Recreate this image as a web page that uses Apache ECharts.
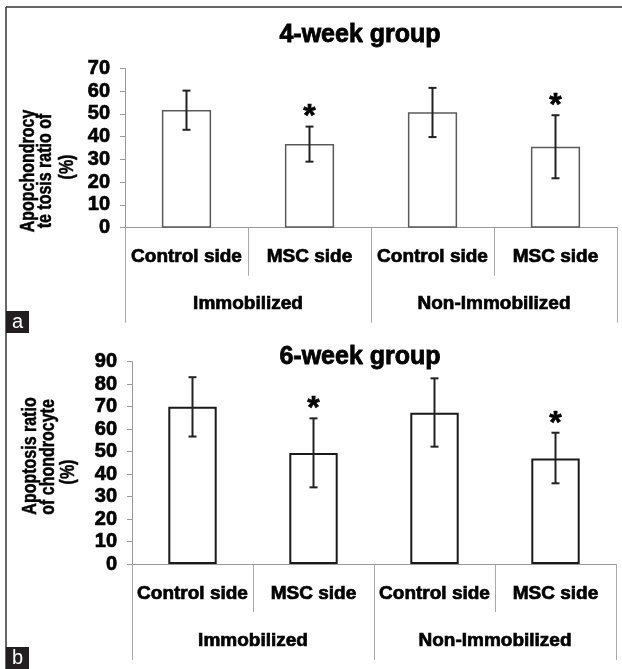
<!DOCTYPE html>
<html>
<head>
<meta charset="utf-8">
<script src="https://cdn.jsdelivr.net/npm/echarts@6/dist/echarts.min.js"></script>
<style>
html,body{margin:0;padding:0;background:#fff;}
#chart{width:622px;height:669px;}
</style>
</head>
<body>
<div id="chart"></div>
<script>
// ---- data ----
const categories = ['Control side', 'MSC side', 'Control side', 'MSC side'];
const groups = ['Immobilized', 'Non-Immobilized'];

const titleA = '4-week group';
const titleB = '6-week group';

const mean4 = [51.7, 36.8, 50.7, 35.6];
const low4  = [43.0, 29.0, 39.8, 21.7];
const high4 = [60.2, 44.4, 61.4, 49.4];
const star4 = ['', '*', '', '*'];

const mean6 = [70.0, 49.4, 67.3, 46.9];
const low6  = [56.7, 34.1, 52.2, 35.9];
const high6 = [83.1, 64.8, 82.6, 58.4];
const star6 = ['', '*', '', '*'];

const yMaxA = 70, yMaxB = 90, yStep = 10;

const nameA = ['Apopchondrocy', 'te tosis ratio of', '(%)'];
const nameB = ['Apoptosis ratio', 'of chondrocyte', '(%)'];

// ---- chart ----
const FONT = "'Liberation Sans', Arial, sans-serif";
const chart = echarts.init(document.getElementById('chart'), null, {renderer: 'canvas'});

const boldRich = (size) => ({a: {fontFamily: FONT, fontWeight: 'bold', fontSize: size, color: '#000',
                                 textBorderColor: '#000', textBorderWidth: 0.7}});

function catAxis(gridIndex, data, tickLen, margin, showLine) {
  return {
    type: 'category', gridIndex: gridIndex, data: data, position: 'bottom',
    axisLine: {show: showLine, lineStyle: {color: '#9a9a9a', width: 1}},
    axisTick: {show: true, interval: 0, length: tickLen, lineStyle: {color: '#a8a8a8', width: 1}},
    axisLabel: {interval: 0, margin: margin, color: '#000', fontFamily: FONT, fontWeight: 'bold', fontSize: 19,
                formatter: (v) => '{a|' + v + '}', rich: boldRich(19)},
    splitLine: {show: false}
  };
}
function valAxis(gridIndex, max) {
  return {
    type: 'value', gridIndex: gridIndex, min: 0, max: max, interval: yStep,
    axisLine: {show: true, lineStyle: {color: '#9a9a9a', width: 1}},
    axisTick: {show: true, length: 5, lineStyle: {color: '#9a9a9a'}},
    axisLabel: {margin: 15, color: '#000', fontFamily: FONT, fontWeight: 'bold', fontSize: 20,
                formatter: (v) => '{a|' + v + '}', rich: boldRich(20)},
    splitLine: {show: false}
  };
}
function errSeries(xIdx, yIdx, low, high, stars) {
  return {
    type: 'custom', xAxisIndex: xIdx, yAxisIndex: yIdx, z: 5,
    data: low.map((l, i) => [i, l, high[i]]),
    renderItem: function (params, api) {
      const i = api.value(0);
      const pL = api.coord([i, api.value(1)]);
      const pH = api.coord([i, api.value(2)]);
      const x = pL[0], cw = 4;
      const st = {stroke: '#222', lineWidth: 2};
      const children = [
        {type: 'line', shape: {x1: x, y1: pL[1], x2: x, y2: pH[1]}, style: st},
        {type: 'line', shape: {x1: x - cw, y1: pL[1], x2: x + cw, y2: pL[1]}, style: st},
        {type: 'line', shape: {x1: x - cw, y1: pH[1], x2: x + cw, y2: pH[1]}, style: st}
      ];
      const s = stars[params.dataIndex];
      if (s) {
        children.push({type: 'text', x: x, y: pH[1] - 9,
          style: {text: s, align: 'center', verticalAlign: 'middle', fill: '#000',
                  stroke: '#000', lineWidth: 0.6, font: 'bold 32px ' + FONT}});
      }
      return {type: 'group', children: children};
    }
  };
}
function nameTexts(lines, xs, ys) {
  return lines.map((t, k) => ({
    type: 'text', x: xs[k], y: ys[k], rotation: Math.PI / 2, scaleX: 0.8, scaleY: 1,
    style: {text: t, align: 'center', verticalAlign: 'middle', fill: '#000',
            stroke: '#000', lineWidth: 0.5, font: 'bold 20px ' + FONT}
  }));
}
const titleStyle = {fontFamily: FONT, fontWeight: 'bold', fontSize: 25, color: '#000',
                    textBorderColor: '#000', textBorderWidth: 0.8};

const option = {
  animation: false,
  backgroundColor: '#fff',
  title: [
    {text: titleA, left: 355, top: 18, textAlign: 'center', textStyle: titleStyle},
    {text: titleB, left: 355, top: 340, textAlign: 'center', textStyle: titleStyle}
  ],
  grid: [
    {left: 125, top: 68.3, width: 492, height: 159.4},
    {left: 132, top: 361.7, width: 484, height: 202.3}
  ],
  xAxis: [
    catAxis(0, categories, 48, 20, true),
    catAxis(0, groups, 95, 67, false),
    catAxis(1, categories, 48, 20, true),
    catAxis(1, groups, 96, 67, false)
  ],
  yAxis: [valAxis(0, yMaxA), valAxis(1, yMaxB)],
  series: [
    {type: 'bar', xAxisIndex: 0, yAxisIndex: 0, data: mean4, barWidth: '40%',
     itemStyle: {color: '#fff', borderColor: '#5a5a5a', borderWidth: 1.5}},
    errSeries(0, 0, low4, high4, star4),
    {type: 'bar', xAxisIndex: 2, yAxisIndex: 1, data: mean6, barWidth: '40%',
     itemStyle: {color: '#fff', borderColor: '#1a1a1a', borderWidth: 2}},
    errSeries(2, 1, low6, high6, star6)
  ],
  graphic: [
    {type: 'line', shape: {x1: 6, y1: 7, x2: 622, y2: 7}, style: {stroke: '#333', lineWidth: 1.5}},
    {type: 'line', shape: {x1: 6, y1: 7, x2: 6, y2: 669}, style: {stroke: '#333', lineWidth: 1.5}},
    {type: 'rect', shape: {x: 6, y: 311, width: 23, height: 22}, style: {fill: '#231f20'}},
    {type: 'text', x: 17.5, y: 322, style: {text: 'a', align: 'center', verticalAlign: 'middle', fill: '#fff', font: '20px ' + FONT}},
    {type: 'rect', shape: {x: 6, y: 647, width: 23, height: 22}, style: {fill: '#231f20'}},
    {type: 'text', x: 17.5, y: 658, style: {text: 'b', align: 'center', verticalAlign: 'middle', fill: '#fff', font: '20px ' + FONT}}
  ].concat(nameTexts(nameA, [28, 45, 67], [171, 171, 167]))
   .concat(nameTexts(nameB, [30.5, 48.5, 68], [456, 457, 472]))
};
chart.setOption(option);
</script>
</body>
</html>
